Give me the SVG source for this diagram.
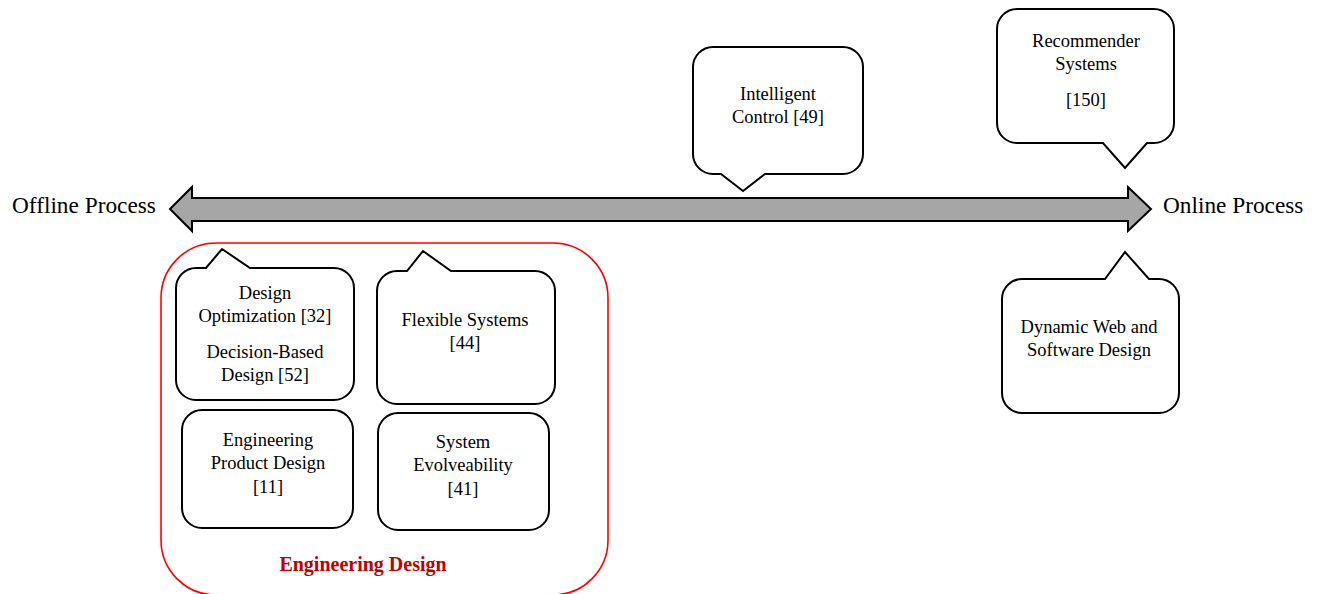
<svg xmlns="http://www.w3.org/2000/svg" width="1318" height="594" viewBox="0 0 1318 594">
<style>
.co{fill:#fff;stroke:#000;stroke-width:2;stroke-linejoin:miter}
.t{font-family:"Liberation Serif","Times New Roman",serif;font-size:18.5px;fill:#000;text-anchor:middle}
.big{font-family:"Liberation Serif","Times New Roman",serif;font-size:23.3px;fill:#000}
</style>
<rect width="1318" height="594" fill="#fff"/>
<g id="connectors">
<path d="M170 209 L192 187 L192 198 L1128 198 L1128 187 L1151 209 L1128 231 L1128 221 L192 221 L192 231 Z" fill="#a6a6a6" stroke="#000" stroke-width="2"/>
</g>
<g id="offline"><text class="big" x="12" y="213">Offline Process</text></g>
<g id="online"><text class="big" x="1163" y="213">Online Process</text></g>
<g id="engineering-design">
<rect x="161" y="243" width="447" height="352" rx="55" ry="55" fill="none" stroke="#ff0000" stroke-width="1.6"/>
<text x="363" y="571" font-family="'Liberation Serif','Times New Roman',serif" font-size="20" font-weight="bold" fill="#c00000" text-anchor="middle">Engineering Design</text>
</g>
<g id="intelligent-control">
<path class="co" d="M713 47 H843 A20 20 0 0 1 863 67 V154 A20 20 0 0 1 843 174 H765 L743 191 L721 174 H713 A20 20 0 0 1 693 154 V67 A20 20 0 0 1 713 47 Z"/>
<text class="t" x="778" y="100">Intelligent</text>
<text class="t" x="778" y="123">Control [49]</text>
</g>
<g id="recommender-systems">
<path class="co" d="M1017 9 H1154 A20 20 0 0 1 1174 29 V123 A20 20 0 0 1 1154 143 H1147 L1125 168 L1103 143 H1017 A20 20 0 0 1 997 123 V29 A20 20 0 0 1 1017 9 Z"/>
<text class="t" x="1086" y="47">Recommender</text>
<text class="t" x="1086" y="70">Systems</text>
<text class="t" x="1086" y="106">[150]</text>
</g>
<g id="dynamic-web">
<path class="co" d="M1022 279 H1105 L1125 252 L1149 279 H1159 A20 20 0 0 1 1179 299 V393 A20 20 0 0 1 1159 413 H1022 A20 20 0 0 1 1002 393 V299 A20 20 0 0 1 1022 279 Z"/>
<text class="t" x="1089" y="333">Dynamic Web and</text>
<text class="t" x="1089" y="356">Software Design</text>
</g>
<g id="design-optimization">
<path class="co" d="M196 268 H206 L222 249 L250 268 H334 A20 20 0 0 1 354 288 V380 A20 20 0 0 1 334 400 H196 A20 20 0 0 1 176 380 V288 A20 20 0 0 1 196 268 Z"/>
<text class="t" x="265" y="299">Design</text>
<text class="t" x="265" y="322">Optimization [32]</text>
<text class="t" x="265" y="358">Decision-Based</text>
<text class="t" x="265" y="381">Design [52]</text>
</g>
<g id="flexible-systems">
<path class="co" d="M397 271 H407 L423 251 L451 271 H535 A20 20 0 0 1 555 291 V384 A20 20 0 0 1 535 404 H397 A20 20 0 0 1 377 384 V291 A20 20 0 0 1 397 271 Z"/>
<text class="t" x="465" y="326">Flexible Systems</text>
<text class="t" x="465" y="349">[44]</text>
</g>
<g id="engineering-product-design">
<rect class="co" x="182" y="410" width="171" height="118" rx="20" ry="20"/>
<text class="t" x="268" y="446">Engineering</text>
<text class="t" x="268" y="469">Product Design</text>
<text class="t" x="268" y="493">[11]</text>
</g>
<g id="system-evolveability">
<rect class="co" x="378" y="413" width="171" height="117" rx="20" ry="20"/>
<text class="t" x="463" y="448">System</text>
<text class="t" x="463" y="471">Evolveability</text>
<text class="t" x="463" y="495">[41]</text>
</g>
</svg>
